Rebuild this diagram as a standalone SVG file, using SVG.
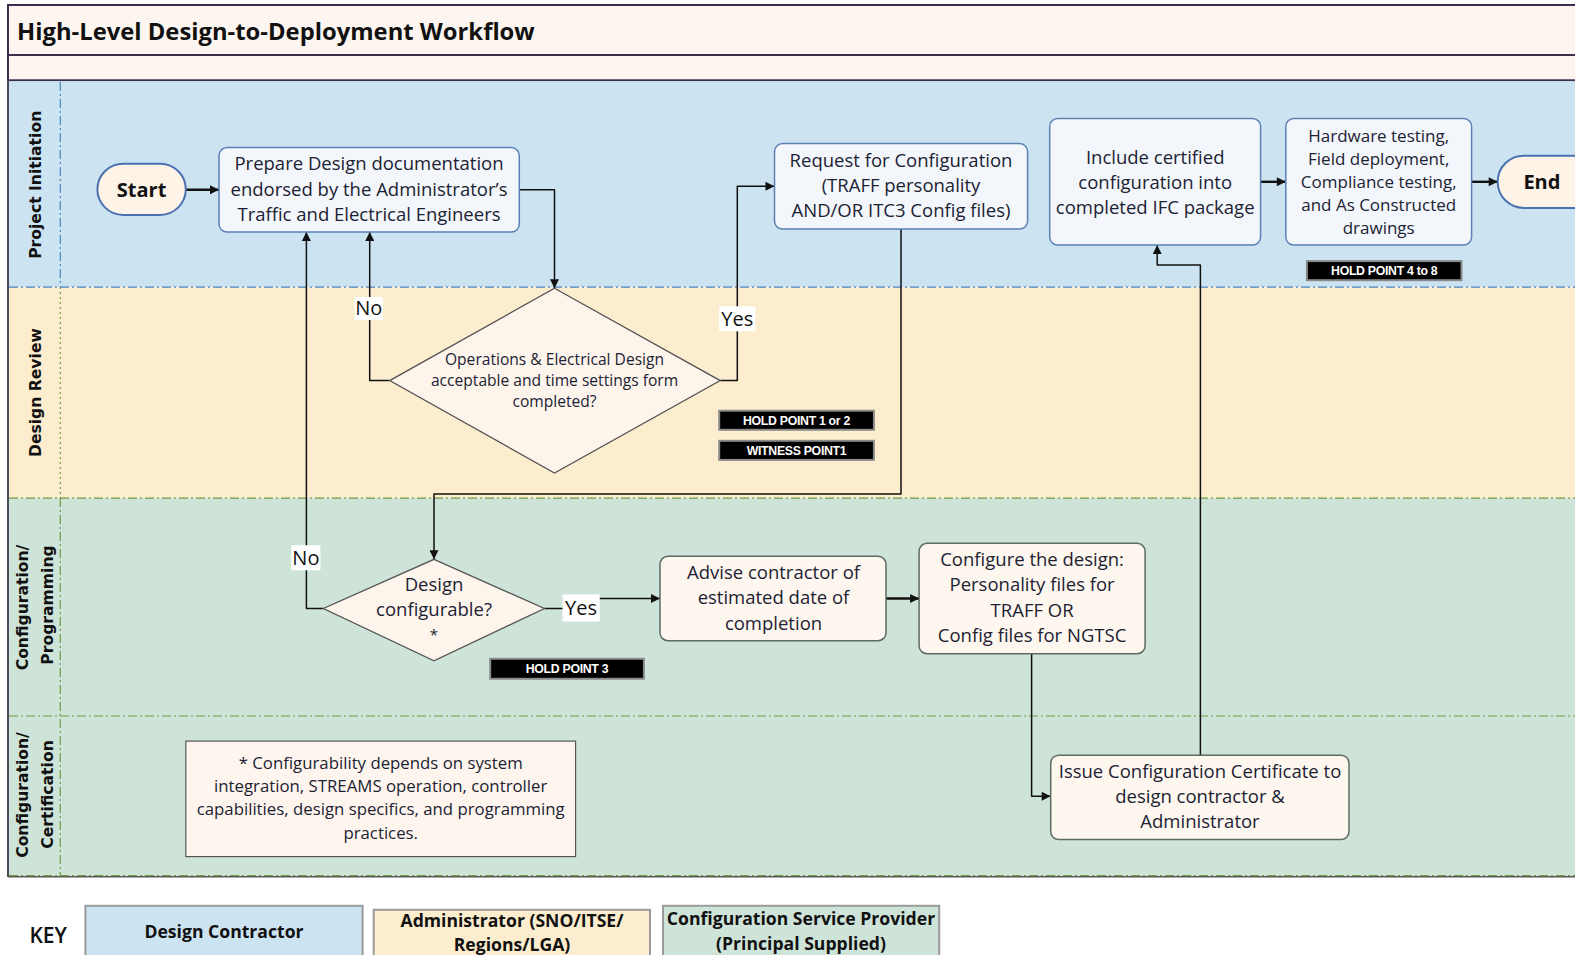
<svg xmlns="http://www.w3.org/2000/svg" width="1575" height="955" viewBox="0 0 1575 955">
<defs>
<style>
.t{font-family:"Open Sans","Noto Sans",sans-serif;fill:#1c2233;text-anchor:middle}
.n{font-size:18.5px}
.sm{font-size:15.6px}
.fn{font-size:16.8px}
.b{font-weight:bold}
.lane{font-family:"DejaVu Sans",sans-serif;font-weight:bold;font-size:15.6px;fill:#111;text-anchor:middle}
.hp{font-family:"Liberation Sans",sans-serif;font-weight:bold;font-size:12.3px;fill:#fff;text-anchor:middle;letter-spacing:-0.3px}
.hpr{fill:#000;stroke:#8a8a8a;stroke-width:2}
.bluebox{fill:#f3f7fb;stroke:#5b80b4;stroke-width:1.5}
.creambox{fill:#fef7ef;stroke:#5e6b63;stroke-width:1.5}
.dia{fill:#fdf5ec;stroke:#555;stroke-width:1.3}
.pill{fill:#fdf3e7;stroke:#4a72b0;stroke-width:2}
.c{fill:none;stroke:#111;stroke-width:1.5;stroke-linejoin:round}
.ct{fill:none;stroke:#111;stroke-width:2.4}
.lbl{fill:#fff}
.yn{font-family:"Open Sans","Noto Sans",sans-serif;font-size:20px;fill:#111;text-anchor:middle}
.key{stroke:#9a9a9a;stroke-width:2}
.kt{font-size:17.6px;fill:#111}
</style>
<marker id="ah" viewBox="0 0 10 10" refX="10" refY="5" markerWidth="10" markerHeight="9" markerUnits="userSpaceOnUse" orient="auto">
<path d="M0,0 L10,5 L0,10 z" fill="#111"/>
</marker>
</defs>

<rect width="1575" height="955" fill="#fff"/>

<g id="lanes">
<rect x="8" y="5" width="1600" height="50" fill="#fdf6f0" stroke="#3b2d4d" stroke-width="2"/>
<rect x="8" y="55" width="1600" height="25.3" fill="#fdf6f0" stroke="#3b2d4d" stroke-width="2"/>
<rect x="9" y="81.3" width="1566" height="205.9" fill="#cce4f2"/>
<rect x="9" y="287.2" width="1566" height="210.9" fill="#fcedcf"/>
<rect x="9" y="498.1" width="1566" height="217.9" fill="#cfe4d9"/>
<rect x="9" y="716" width="1566" height="160.7" fill="#cfe4d9"/>
<line x1="8" y1="80.3" x2="8" y2="877" stroke="#4a4a5a" stroke-width="2"/>
<line x1="8" y1="876.7" x2="1575" y2="876.7" stroke="#5a5a5a" stroke-width="1.5"/>
<line x1="9" y1="287.2" x2="1575" y2="287.2" stroke="#4a84bd" stroke-width="1.2" stroke-dasharray="9,3,2,3"/>
<line x1="9" y1="498.1" x2="1575" y2="498.1" stroke="#6f9d45" stroke-width="1.2" stroke-dasharray="9,3,2,3"/>
<line x1="9" y1="716" x2="1575" y2="716" stroke="#6f9d45" stroke-width="1.2" stroke-dasharray="9,3,2,3"/>
<line x1="9" y1="875.5" x2="1575" y2="875.5" stroke="#6f9d45" stroke-width="1" stroke-dasharray="9,3,2,3"/>
<line x1="60.3" y1="82" x2="60.3" y2="287" stroke="#4a84bd" stroke-width="1.2" stroke-dasharray="9,3,2,3"/>
<line x1="60.3" y1="287" x2="60.3" y2="498" stroke="#6f9d45" stroke-width="1.2" stroke-dasharray="2,3"/>
<line x1="60.3" y1="498" x2="60.3" y2="876" stroke="#6f9d45" stroke-width="1.2" stroke-dasharray="9,3,2,3"/>
<text x="17" y="40" class="t b" style="font-size:23.8px;text-anchor:start;fill:#111">High-Level Design-to-Deployment Workflow</text>
<text class="lane" transform="translate(40.7,184.8) rotate(-90)">Project Initiation</text>
<text class="lane" transform="translate(40.7,392.6) rotate(-90)">Design Review</text>
<text class="lane" transform="translate(27.8,607.5) rotate(-90)">Configuration/</text>
<text class="lane" transform="translate(52.8,605) rotate(-90)">Programming</text>
<text class="lane" transform="translate(27.8,795) rotate(-90)">Configuration/</text>
<text class="lane" transform="translate(52.8,794.5) rotate(-90)">Certification</text>
</g>

<g id="connectors">
<path class="ct" d="M185.8,189.8 H219" marker-end="url(#ah)"/>
<path class="c" d="M519.3,189.8 H554.5 V288.2" marker-end="url(#ah)"/>
<path class="c" d="M389.7,380.6 H369.7 V232" marker-end="url(#ah)"/>
<path class="c" d="M720.2,380.6 H737.3 V186.3 H774.5" marker-end="url(#ah)"/>
<path class="c" d="M901,229 V494 H434 V559.3" marker-end="url(#ah)"/>
<path class="c" d="M323.4,608.5 H306.4 V232" marker-end="url(#ah)"/>
<path class="c" d="M544.4,608.5 H572 V598.5 H660" marker-end="url(#ah)"/>
<path class="ct" d="M886,598.5 H919.1" marker-end="url(#ah)"/>
<path class="c" d="M1031.6,653.7 V796.3 H1050.7" marker-end="url(#ah)"/>
<path class="c" d="M1200.4,755.2 V265.1 H1157.2 V245" marker-end="url(#ah)"/>
<path class="ct" d="M1260.6,181.8 H1285.8" marker-end="url(#ah)"/>
<path class="ct" d="M1471.6,181.8 H1497.7" marker-end="url(#ah)"/>
<rect class="lbl" x="354.6" y="297" width="28.1" height="23"/>
<text class="yn" x="368.7" y="315.3">No</text>
<rect class="lbl" x="719.2" y="306.3" width="36.2" height="25"/>
<text class="yn" x="737.3" y="325.5">Yes</text>
<rect class="lbl" x="291.3" y="545.3" width="29.1" height="25"/>
<text class="yn" x="305.9" y="565">No</text>
<rect class="lbl" x="562.5" y="594.5" width="37.2" height="27"/>
<text class="yn" x="581.1" y="615">Yes</text>
</g>

<g id="start">
<rect class="pill" x="97.4" y="163.7" width="88.4" height="51.2" rx="25.6"/>
<text class="t b" x="141.6" y="197" style="font-size:20px;fill:#111">Start</text>
</g>

<g id="prepare">
<rect class="bluebox" x="219" y="147.6" width="300.3" height="84.4" rx="8"/>
<text class="t n" x="369" y="170">Prepare Design documentation</text>
<text class="t n" x="369" y="196">endorsed by the Administrator’s</text>
<text class="t n" x="369" y="221">Traffic and Electrical Engineers</text>
</g>

<g id="decision-design">
<polygon class="dia" points="554.5,288.2 720.2,380.6 554.5,473 389.7,380.6"/>
<text class="t sm" x="554.5" y="365">Operations &amp; Electrical Design</text>
<text class="t sm" x="554.5" y="386">acceptable and time settings form</text>
<text class="t sm" x="554.5" y="407">completed?</text>
</g>

<g id="hold-1-2">
<rect class="hpr" x="719.2" y="410.7" width="154.7" height="19.1"/>
<text class="hp" x="796.5" y="424.6">HOLD POINT 1 or 2</text>
</g>
<g id="witness-1">
<rect class="hpr" x="719.2" y="440.8" width="154.7" height="19.1"/>
<text class="hp" x="796.5" y="454.7">WITNESS POINT1</text>
</g>

<g id="request">
<rect class="bluebox" x="774.5" y="143.6" width="253.1" height="85.4" rx="8"/>
<text class="t n" x="901" y="167">Request for Configuration</text>
<text class="t n" x="901" y="192">(TRAFF personality</text>
<text class="t n" x="901" y="217">AND/OR ITC3 Config files)</text>
</g>

<g id="include">
<rect class="bluebox" x="1049.7" y="118.5" width="210.9" height="126.5" rx="8"/>
<text class="t n" x="1155.2" y="164">Include certified</text>
<text class="t n" x="1155.2" y="189">configuration into</text>
<text class="t n" x="1155.2" y="214">completed IFC package</text>
</g>

<g id="hardware">
<rect class="bluebox" x="1285.8" y="118.5" width="185.8" height="126.5" rx="8"/>
<text class="t" style="font-size:17px" x="1378.7" y="141.5">Hardware testing,</text>
<text class="t" style="font-size:17px" x="1378.7" y="164.5">Field deployment,</text>
<text class="t" style="font-size:17px" x="1378.7" y="187.5">Compliance testing,</text>
<text class="t" style="font-size:17px" x="1378.7" y="210.5">and As Constructed</text>
<text class="t" style="font-size:17px" x="1378.7" y="233.5">drawings</text>
</g>

<g id="hold-4-8">
<rect class="hpr" x="1306.9" y="261.1" width="154.6" height="19.1"/>
<text class="hp" x="1384.2" y="275">HOLD POINT 4 to 8</text>
</g>

<g id="end">
<rect class="pill" x="1497.7" y="155.7" width="120" height="52.2" rx="26"/>
<text class="t b" x="1541.9" y="189" style="font-size:20px;fill:#111">End</text>
</g>

<g id="decision-configurable">
<polygon class="dia" points="434,559.3 544.4,608.5 434,660.8 323.4,608.5"/>
<text class="t n" x="434" y="590.5">Design</text>
<text class="t n" x="434" y="615.5">configurable?</text>
<text class="t" style="font-size:15px" x="434" y="640">*</text>
</g>

<g id="hold-3">
<rect class="hpr" x="490.2" y="658.8" width="153.7" height="20"/>
<text class="hp" x="567" y="673.2">HOLD POINT 3</text>
</g>

<g id="advise">
<rect class="creambox" x="660" y="556.3" width="226" height="84.4" rx="8"/>
<text class="t n" x="773.5" y="578.5">Advise contractor of</text>
<text class="t n" x="773.5" y="603.5">estimated date of</text>
<text class="t n" x="773.5" y="629.5">completion</text>
</g>

<g id="configure">
<rect class="creambox" x="919.1" y="543.3" width="226" height="110.4" rx="8"/>
<text class="t n" x="1032.1" y="565.5">Configure the design:</text>
<text class="t n" x="1032.1" y="590.5">Personality files for</text>
<text class="t n" x="1032.1" y="616.5">TRAFF OR</text>
<text class="t n" x="1032.1" y="641.5">Config files for NGTSC</text>
</g>

<g id="issue">
<rect class="creambox" x="1050.7" y="755.2" width="298.3" height="84.3" rx="8"/>
<text class="t n" x="1200" y="777.5">Issue Configuration Certificate to</text>
<text class="t n" x="1200" y="802.5">design contractor &amp;</text>
<text class="t n" x="1200" y="827.5">Administrator</text>
</g>

<g id="footnote">
<rect x="185.8" y="741.1" width="389.8" height="115.5" fill="#fef6ee" stroke="#555" stroke-width="1.2"/>
<text class="t fn" x="380.7" y="769">* Configurability depends on system</text>
<text class="t fn" x="380.7" y="792">integration, STREAMS operation, controller</text>
<text class="t fn" x="380.7" y="815">capabilities, design specifics, and programming</text>
<text class="t fn" x="380.7" y="839">practices.</text>
</g>

<g id="key">
<text class="t" x="48.2" y="943" style="font-size:21px;font-weight:600;fill:#111">KEY</text>
<rect class="key" x="85.4" y="905.8" width="277.2" height="60" fill="#cce4f2"/>
<text class="t b kt" x="224" y="938">Design Contractor</text>
<rect class="key" x="373.7" y="909.8" width="276.3" height="60" fill="#fcedcf"/>
<text class="t b kt" x="512" y="926.5">Administrator (SNO/ITSE/</text>
<text class="t b kt" x="512" y="951">Regions/LGA)</text>
<rect class="key" x="663" y="905.8" width="276.2" height="60" fill="#cfe4d9"/>
<text class="t b kt" x="801" y="924.5">Configuration Service Provider</text>
<text class="t b kt" x="801" y="950">(Principal Supplied)</text>
</g>
</svg>
